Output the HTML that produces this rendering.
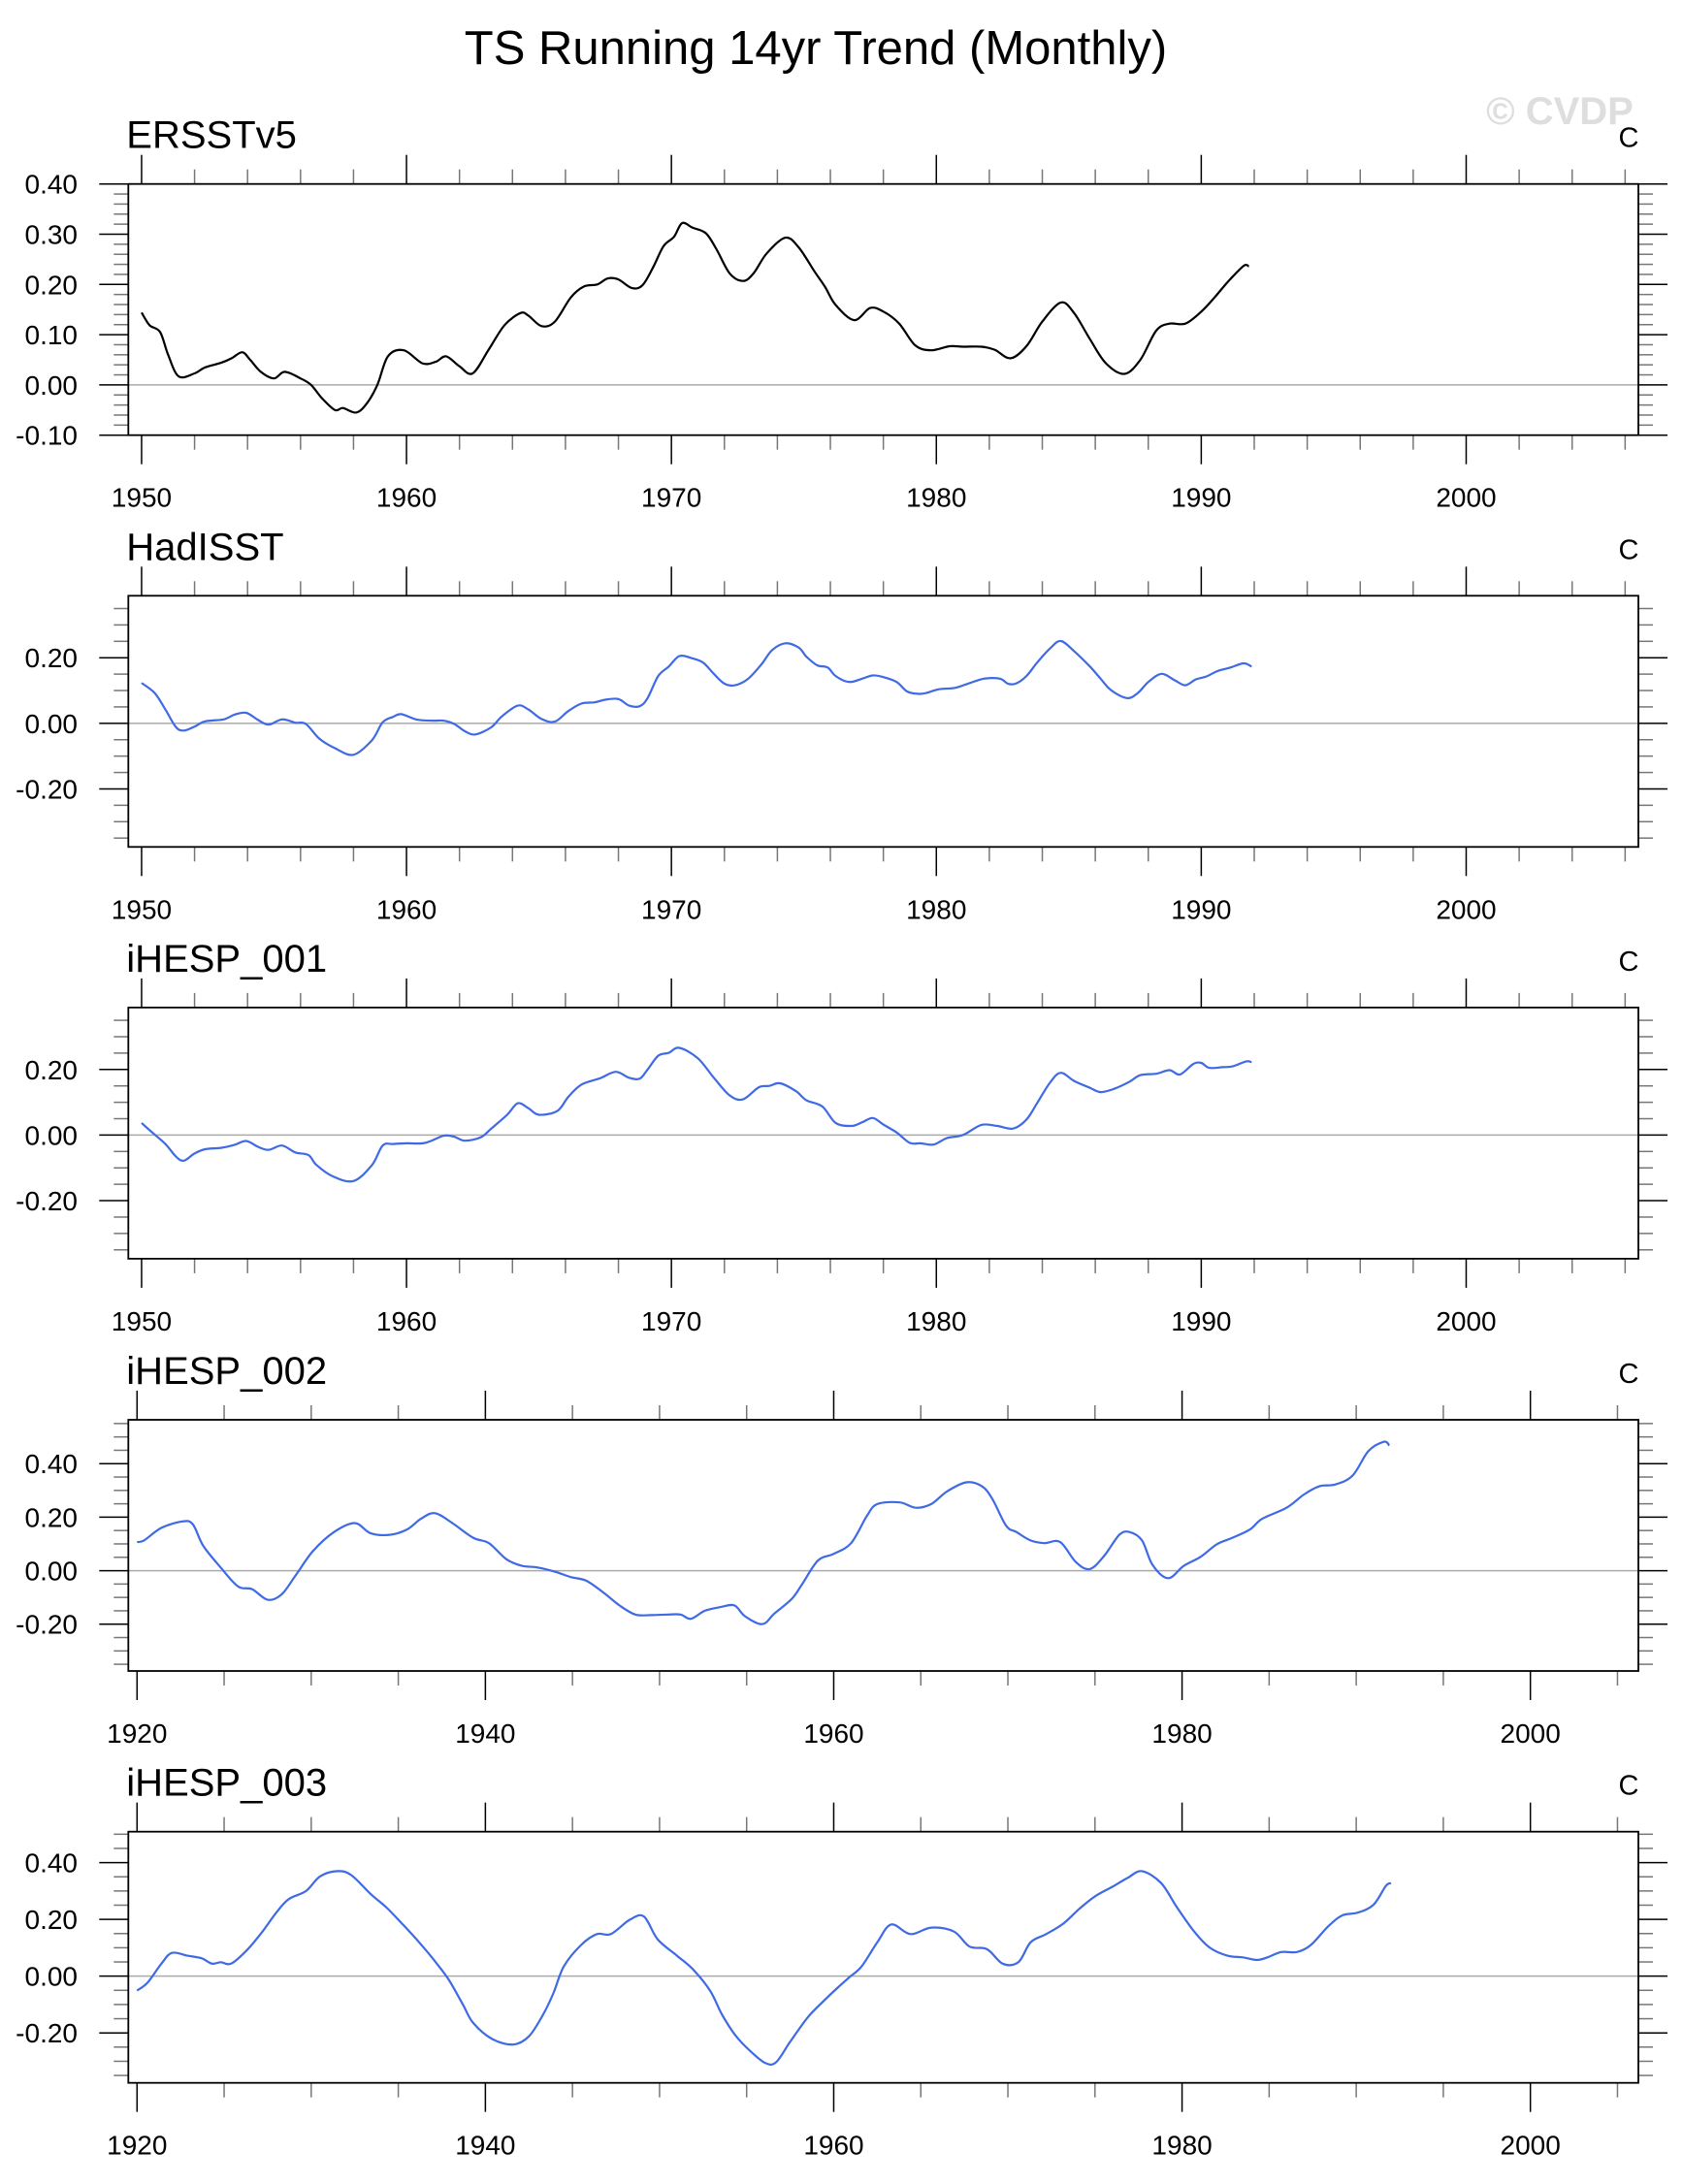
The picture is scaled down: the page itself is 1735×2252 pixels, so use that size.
<!DOCTYPE html>
<html><head><meta charset="utf-8"><style>
html,body{margin:0;padding:0;background:#fff;}
svg{display:block;font-family:"Liberation Sans",Arial,sans-serif;}
</style></head><body>
<svg id="chart" width="1735" height="2252" viewBox="0 0 1735 2252" xmlns="http://www.w3.org/2000/svg">
<text x="841" y="66" font-size="49" text-anchor="middle" fill="#000">TS Running 14yr Trend (Monthly)</text>
<text x="1608" y="128" font-size="40" font-weight="bold" text-anchor="middle" fill="#dedede">© CVDP</text>
</svg>
<script>
// ERSSTv5
const ersstYears=[1950.0,1950.3,1950.7,1951.0,1951.4,1952.0,1952.4,1953.0,1953.4,1953.8,1954.1,1954.5,1955.0,1955.4,1956.0,1956.4,1956.8,1957.3,1957.6,1958.1,1958.5,1958.9,1959.3,1959.9,1960.6,1961.1,1961.5,1962.0,1962.5,1963.1,1963.7,1964.3,1964.6,1965.1,1965.6,1966.2,1966.7,1967.2,1967.6,1968.0,1968.5,1968.9,1969.3,1969.7,1970.1,1970.4,1970.8,1971.3,1971.7,1972.2,1972.7,1973.1,1973.6,1974.3,1974.8,1975.4,1975.8,1976.2,1976.9,1977.5,1978.0,1978.6,1979.2,1979.8,1980.5,1981.0,1981.7,1982.2,1982.8,1983.4,1984.0,1984.7,1985.2,1985.8,1986.4,1987.1,1987.7,1988.3,1988.8,1989.4,1990.0,1990.5,1991.0,1991.6,1991.8];
const ersstValues=[0.144,0.119,0.105,0.06,0.017,0.023,0.035,0.044,0.053,0.065,0.05,0.026,0.013,0.026,0.013,0.0,-0.026,-0.05,-0.046,-0.055,-0.037,0.0,0.057,0.069,0.043,0.046,0.057,0.037,0.023,0.07,0.119,0.143,0.138,0.117,0.126,0.174,0.196,0.2,0.212,0.21,0.193,0.198,0.233,0.276,0.295,0.322,0.313,0.302,0.27,0.222,0.207,0.222,0.262,0.293,0.274,0.226,0.195,0.159,0.129,0.153,0.146,0.122,0.079,0.069,0.077,0.076,0.076,0.07,0.053,0.077,0.126,0.164,0.143,0.091,0.043,0.022,0.05,0.108,0.122,0.122,0.146,0.174,0.205,0.237,0.236];
// HadISST
const hadYears=[1950.0,1950.5,1950.9,1951.3,1951.6,1952.0,1952.4,1953.1,1953.5,1953.95,1954.4,1954.8,1955.3,1955.8,1956.2,1956.7,1957.3,1958.0,1958.7,1959.1,1959.5,1959.8,1960.4,1961.0,1961.4,1961.8,1962.2,1962.6,1963.2,1963.6,1964.2,1964.6,1965.1,1965.6,1966.1,1966.6,1967.1,1967.5,1968.0,1968.4,1968.8,1969.1,1969.5,1969.9,1970.3,1970.8,1971.2,1971.6,1972.0,1972.4,1972.9,1973.4,1973.8,1974.3,1974.8,1975.1,1975.5,1975.9,1976.2,1976.7,1977.2,1977.6,1978.0,1978.5,1978.9,1979.3,1979.6,1980.1,1980.7,1981.2,1981.8,1982.4,1982.7,1983.0,1983.4,1983.8,1984.3,1984.7,1985.2,1985.8,1986.2,1986.6,1987.2,1987.6,1988.0,1988.5,1989.0,1989.4,1989.8,1990.2,1990.6,1991.1,1991.6,1991.9];
const hadValues=[0.123,0.092,0.042,-0.012,-0.022,-0.01,0.006,0.012,0.026,0.032,0.01,-0.004,0.012,0.002,-0.002,-0.046,-0.076,-0.096,-0.051,0.003,0.02,0.028,0.011,0.008,0.008,-0.002,-0.024,-0.034,-0.012,0.021,0.054,0.042,0.013,0.005,0.037,0.06,0.064,0.072,0.074,0.054,0.052,0.077,0.144,0.173,0.205,0.198,0.185,0.151,0.121,0.116,0.136,0.18,0.223,0.244,0.231,0.203,0.177,0.17,0.144,0.126,0.136,0.146,0.141,0.126,0.097,0.09,0.092,0.104,0.108,0.121,0.136,0.136,0.121,0.121,0.144,0.185,0.229,0.251,0.22,0.173,0.136,0.101,0.077,0.092,0.126,0.151,0.131,0.116,0.134,0.143,0.159,0.17,0.183,0.173];
// iHESP_001
const h001Years=[1950.0,1950.4,1950.9,1951.3,1951.6,1952.0,1952.4,1953.0,1953.5,1953.95,1954.4,1954.8,1955.3,1955.8,1956.3,1956.6,1957.2,1958.0,1958.7,1959.1,1959.5,1960.0,1960.7,1961.4,1961.8,1962.2,1962.8,1963.2,1963.8,1964.2,1964.6,1965.0,1965.7,1966.1,1966.6,1967.3,1967.9,1968.4,1968.8,1969.1,1969.5,1969.9,1970.3,1971.0,1971.6,1972.2,1972.7,1973.3,1973.7,1974.1,1974.7,1975.1,1975.7,1976.2,1976.8,1977.2,1977.6,1978.0,1978.5,1979.0,1979.4,1979.9,1980.4,1981.0,1981.7,1982.3,1982.9,1983.4,1983.8,1984.3,1984.7,1985.2,1985.8,1986.2,1986.7,1987.3,1987.7,1988.3,1988.8,1989.2,1989.7,1990.0,1990.3,1990.8,1991.2,1991.7,1991.9];
const h001Values=[0.037,0.008,-0.027,-0.066,-0.078,-0.056,-0.043,-0.039,-0.03,-0.018,-0.036,-0.045,-0.032,-0.053,-0.061,-0.091,-0.125,-0.14,-0.091,-0.032,-0.027,-0.025,-0.024,-0.002,-0.005,-0.017,-0.007,0.02,0.062,0.097,0.082,0.062,0.074,0.116,0.154,0.173,0.193,0.175,0.172,0.2,0.242,0.251,0.266,0.234,0.175,0.121,0.109,0.146,0.15,0.158,0.134,0.106,0.087,0.037,0.028,0.039,0.052,0.032,0.008,-0.024,-0.025,-0.029,-0.009,0.0,0.031,0.028,0.02,0.047,0.097,0.161,0.19,0.165,0.144,0.131,0.141,0.163,0.183,0.187,0.198,0.185,0.217,0.22,0.205,0.207,0.21,0.225,0.222];
// iHESP_002
const h002Years=[1920.0,1920.4,1921.4,1922.6,1923.2,1923.8,1924.8,1925.8,1926.6,1927.5,1928.3,1929.1,1930.1,1931.3,1932.5,1933.4,1934.5,1935.5,1936.3,1937.1,1938.1,1939.3,1940.2,1941.2,1942.1,1943.0,1944.0,1944.9,1945.8,1946.8,1947.7,1948.6,1949.5,1950.5,1951.2,1951.8,1952.6,1953.5,1954.3,1954.9,1955.9,1956.6,1957.6,1958.2,1959.1,1960.0,1961.0,1961.9,1962.5,1963.8,1964.7,1965.6,1966.5,1967.6,1968.5,1969.1,1969.9,1970.5,1971.3,1972.1,1973.0,1973.9,1974.7,1975.5,1976.4,1977.0,1977.7,1978.3,1979.2,1980.1,1981.1,1982.0,1982.9,1983.9,1984.6,1986.0,1987.0,1987.9,1988.8,1989.8,1990.7,1991.6,1991.9];
const h002Values=[0.107,0.113,0.16,0.184,0.174,0.093,0.012,-0.059,-0.069,-0.109,-0.089,-0.018,0.073,0.144,0.178,0.14,0.134,0.154,0.194,0.215,0.178,0.123,0.103,0.043,0.018,0.012,-0.004,-0.024,-0.038,-0.083,-0.13,-0.164,-0.166,-0.164,-0.164,-0.18,-0.15,-0.136,-0.13,-0.17,-0.2,-0.16,-0.105,-0.049,0.038,0.063,0.103,0.204,0.249,0.255,0.235,0.249,0.296,0.33,0.316,0.269,0.168,0.144,0.113,0.103,0.107,0.032,0.006,0.053,0.134,0.144,0.113,0.022,-0.028,0.018,0.053,0.099,0.123,0.154,0.194,0.235,0.285,0.316,0.322,0.356,0.447,0.482,0.468];
// iHESP_003
const h003Years=[1920.0,1920.6,1921.4,1922.0,1922.9,1923.7,1924.3,1924.8,1925.4,1926.3,1927.2,1928.0,1928.7,1929.7,1930.5,1931.5,1932.3,1933.4,1934.3,1935.2,1936.2,1937.1,1937.9,1938.7,1939.3,1940.4,1941.6,1942.5,1943.3,1943.9,1944.5,1945.5,1946.4,1947.2,1948.3,1949.1,1949.9,1951.0,1951.9,1952.9,1953.6,1954.4,1955.3,1956.1,1956.7,1957.5,1958.5,1959.4,1960.2,1960.9,1961.6,1962.5,1963.3,1964.4,1965.6,1966.9,1967.8,1968.8,1969.7,1970.6,1971.3,1972.2,1973.2,1974.1,1975.0,1976.0,1976.9,1977.7,1978.8,1979.7,1980.7,1981.6,1982.6,1983.5,1984.3,1984.9,1985.7,1986.6,1987.4,1988.4,1989.2,1990.1,1991.0,1991.7,1992.0];
const h003Values=[-0.051,-0.023,0.044,0.082,0.072,0.063,0.044,0.049,0.044,0.091,0.157,0.224,0.271,0.3,0.351,0.37,0.356,0.29,0.243,0.186,0.119,0.053,-0.013,-0.099,-0.165,-0.222,-0.241,-0.212,-0.137,-0.061,0.034,0.11,0.148,0.148,0.199,0.21,0.129,0.072,0.025,-0.051,-0.137,-0.212,-0.269,-0.307,-0.303,-0.231,-0.146,-0.089,-0.042,-0.004,0.034,0.119,0.182,0.148,0.171,0.157,0.104,0.095,0.044,0.049,0.119,0.148,0.186,0.237,0.281,0.315,0.347,0.37,0.328,0.243,0.157,0.1,0.072,0.066,0.057,0.066,0.085,0.085,0.11,0.176,0.214,0.224,0.252,0.318,0.328];
// axis tick labels
const yLabelsP1=["-0.10","0.00","0.10","0.20","0.30","0.40"];
const yLabelsP2=["-0.20","0.00","0.20"];
const yLabelsP4=["-0.20","0.00","0.20","0.40"];
const xLabelsA=["1950","1960","1970","1980","1990","2000"];
const xLabelsB=["1920","1940","1960","1980","2000"];

const NS="http://www.w3.org/2000/svg";
const svg=document.getElementById('chart');
function el(tag,attrs,parent){const e=document.createElementNS(NS,tag);for(const k in attrs)e.setAttribute(k,attrs[k]);(parent||svg).appendChild(e);return e;}

const L=132.3,R=1689,H=259;
const panels=[
 {name:"ERSSTv5",years:ersstYears,vals:ersstValues,color:"#000",top:189.7,x0:1949.5,x1:2006.5,y0:-0.1,y1:0.4,yMinor:0.02,yMajorLabels:yLabelsP1,xLabels:xLabelsA,xMajor:10,xMinor:2},
 {name:"HadISST",years:hadYears,vals:hadValues,color:"#3f6ae4",top:614.3,x0:1949.5,x1:2006.5,y0:-0.377,y1:0.389,yMinor:0.05,yMajorLabels:yLabelsP2,xLabels:xLabelsA,xMajor:10,xMinor:2},
 {name:"iHESP_001",years:h001Years,vals:h001Values,color:"#3f6ae4",top:1038.9,x0:1949.5,x1:2006.5,y0:-0.377,y1:0.389,yMinor:0.05,yMajorLabels:yLabelsP2,xLabels:xLabelsA,xMajor:10,xMinor:2},
 {name:"iHESP_002",years:h002Years,vals:h002Values,color:"#3f6ae4",top:1464,x0:1919.5,x1:2006.2,y0:-0.375,y1:0.564,yMinor:0.05,yMajorLabels:yLabelsP4,xLabels:xLabelsB,xMajor:20,xMinor:5},
 {name:"iHESP_003",years:h003Years,vals:h003Values,color:"#3f6ae4",top:1888.7,x0:1919.5,x1:2006.2,y0:-0.376,y1:0.509,yMinor:0.05,yMajorLabels:yLabelsP4,xLabels:xLabelsB,xMajor:20,xMinor:5}
];

function smoothPath(pts){
 let d='M'+pts[0][0].toFixed(1)+' '+pts[0][1].toFixed(1);
 for(let i=0;i<pts.length-1;i++){
  const p0=pts[Math.max(0,i-1)],p1=pts[i],p2=pts[i+1],p3=pts[Math.min(pts.length-1,i+2)];
  const c1x=p1[0]+(p2[0]-p0[0])/6,c1y=p1[1]+(p2[1]-p0[1])/6;
  const c2x=p2[0]-(p3[0]-p1[0])/6,c2y=p2[1]-(p3[1]-p1[1])/6;
  d+=' C'+c1x.toFixed(1)+' '+c1y.toFixed(1)+' '+c2x.toFixed(1)+' '+c2y.toFixed(1)+' '+p2[0].toFixed(1)+' '+p2[1].toFixed(1);
 }
 return d;
}

panels.forEach((p,i)=>{
 const T=p.top,B=T+H;
 const xs=v=>L+(v-p.x0)/(p.x1-p.x0)*(R-L);
 const ys=v=>B-(v-p.y0)/(p.y1-p.y0)*H;
 const g=el('g',{});
 
 
 const t=el('text',{x:L-2,y:T-37,'font-size':40,fill:'#000'},g);t.textContent=p.name;
 
 
 const u=el('text',{x:1679,y:T-38,'font-size':29,'text-anchor':'middle',fill:'#000'},g);u.textContent='C';
 
 
 const z=el('line',{x1:L,x2:R,y1:ys(0),y2:ys(0),stroke:'#aaa','stroke-width':1.5},g);
 
 
 const start=Math.ceil(p.y0/p.yMinor-1e-6);
 for(let k=start;k*p.yMinor<=p.y1+1e-9;k++){
  const v=k*p.yMinor;const y=ys(v);
  const step=p.yMinor===0.02?0.1:0.2;
  const major=Math.abs(v/step-Math.round(v/step))<1e-6;
  const len=major?30:15;
  el('line',{x1:L-len,x2:L,y1:y,y2:y,stroke:major?'#000':'#777','stroke-width':1.5},g);
  el('line',{x1:R,x2:R+len,y1:y,y2:y,stroke:major?'#000':'#777','stroke-width':1.5},g);
 }
 p.yMajorLabels.forEach(s=>{
  const lab=el('text',{x:80,y:ys(parseFloat(s))+10,'font-size':28,'text-anchor':'end',fill:'#000'},g);lab.textContent=s;
  
  
 });
 for(let yr=Math.ceil(p.x0/p.xMinor)*p.xMinor;yr<=p.x1;yr+=p.xMinor){
  const x=xs(yr);const major=yr%p.xMajor===0;const len=major?30:15;
  el('line',{x1:x,x2:x,y1:T-len,y2:T,stroke:major?'#000':'#777','stroke-width':1.5},g);
  el('line',{x1:x,x2:x,y1:B,y2:B+len,stroke:major?'#000':'#777','stroke-width':1.5},g);
 }
 p.xLabels.forEach(s=>{
  const lab=el('text',{x:xs(parseFloat(s)),y:B+74,'font-size':28,'text-anchor':'middle',fill:'#000'},g);lab.textContent=s;
  
  
 });
 const box=el('rect',{x:L,y:T,width:R-L,height:H,fill:'none',stroke:'#000','stroke-width':1.8},g);
 
 
 const pts=p.years.map((yr,j)=>[xs(yr),ys(p.vals[j])]);
 const path=el('path',{d:smoothPath(pts),fill:'none',stroke:p.color,'stroke-width':2.2,'stroke-linejoin':'round'},g);
 
 
});
</script>
</body></html>
